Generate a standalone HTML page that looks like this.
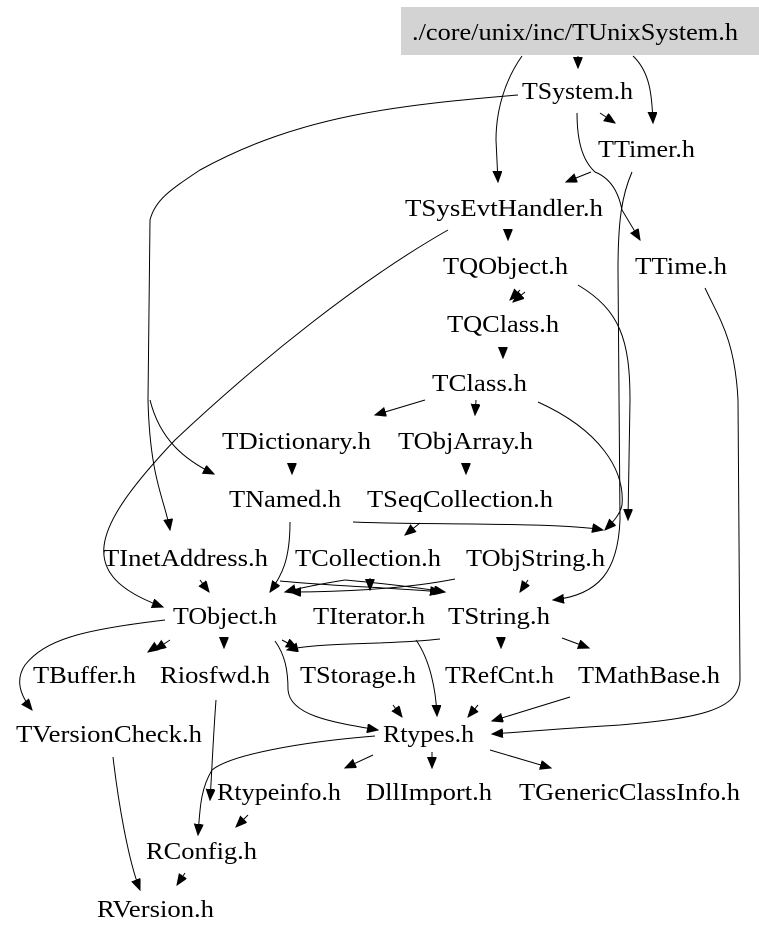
<!DOCTYPE html>
<html><head><meta charset="utf-8"><style>
html,body{margin:0;padding:0;background:#fff;}
svg{display:block;}
text{font-family:"Liberation Serif",serif;font-size:24px;fill:#000;}
path{fill:none;stroke:#000;stroke-width:1;}
</style></head><body>
<svg width="759" height="939" viewBox="0 0 759 939" xmlns="http://www.w3.org/2000/svg">
<defs>
<marker id="a" markerWidth="12" markerHeight="10" refX="11" refY="4.5" orient="auto" markerUnits="userSpaceOnUse">
<path d="M0,0 L11,4.5 L0,9 z" style="fill:#000;stroke:#000"/>
</marker>
</defs>
<rect x="401" y="7" width="358" height="48" fill="#d3d3d3"/>
<text x="412" y="40" textLength="326" lengthAdjust="spacingAndGlyphs">./core/unix/inc/TUnixSystem.h</text>
<text x="522" y="99" textLength="111" lengthAdjust="spacingAndGlyphs">TSystem.h</text>
<text x="598" y="157" textLength="97" lengthAdjust="spacingAndGlyphs">TTimer.h</text>
<text x="405" y="216" textLength="198" lengthAdjust="spacingAndGlyphs">TSysEvtHandler.h</text>
<text x="443" y="274" textLength="125" lengthAdjust="spacingAndGlyphs">TQObject.h</text>
<text x="635" y="274" textLength="92" lengthAdjust="spacingAndGlyphs">TTime.h</text>
<text x="447" y="332" textLength="112" lengthAdjust="spacingAndGlyphs">TQClass.h</text>
<text x="432" y="391" textLength="95" lengthAdjust="spacingAndGlyphs">TClass.h</text>
<text x="222" y="449" textLength="149" lengthAdjust="spacingAndGlyphs">TDictionary.h</text>
<text x="398" y="449" textLength="135" lengthAdjust="spacingAndGlyphs">TObjArray.h</text>
<text x="229" y="507" textLength="112" lengthAdjust="spacingAndGlyphs">TNamed.h</text>
<text x="367" y="507" textLength="186" lengthAdjust="spacingAndGlyphs">TSeqCollection.h</text>
<text x="103" y="566" textLength="165" lengthAdjust="spacingAndGlyphs">TInetAddress.h</text>
<text x="295" y="566" textLength="146" lengthAdjust="spacingAndGlyphs">TCollection.h</text>
<text x="466" y="566" textLength="139" lengthAdjust="spacingAndGlyphs">TObjString.h</text>
<text x="173" y="624" textLength="104" lengthAdjust="spacingAndGlyphs">TObject.h</text>
<text x="313" y="624" textLength="112" lengthAdjust="spacingAndGlyphs">TIterator.h</text>
<text x="448" y="624" textLength="102" lengthAdjust="spacingAndGlyphs">TString.h</text>
<text x="33" y="683" textLength="103" lengthAdjust="spacingAndGlyphs">TBuffer.h</text>
<text x="160" y="683" textLength="110" lengthAdjust="spacingAndGlyphs">Riosfwd.h</text>
<text x="300" y="683" textLength="116" lengthAdjust="spacingAndGlyphs">TStorage.h</text>
<text x="445" y="683" textLength="109" lengthAdjust="spacingAndGlyphs">TRefCnt.h</text>
<text x="578" y="683" textLength="142" lengthAdjust="spacingAndGlyphs">TMathBase.h</text>
<text x="16" y="742" textLength="186" lengthAdjust="spacingAndGlyphs">TVersionCheck.h</text>
<text x="383" y="742" textLength="91" lengthAdjust="spacingAndGlyphs">Rtypes.h</text>
<text x="217" y="800" textLength="124" lengthAdjust="spacingAndGlyphs">Rtypeinfo.h</text>
<text x="366" y="800" textLength="126" lengthAdjust="spacingAndGlyphs">DllImport.h</text>
<text x="519" y="800" textLength="221" lengthAdjust="spacingAndGlyphs">TGenericClassInfo.h</text>
<text x="146" y="859" textLength="111" lengthAdjust="spacingAndGlyphs">RConfig.h</text>
<text x="97" y="917" textLength="117" lengthAdjust="spacingAndGlyphs">RVersion.h</text>

<g marker-end="url(#a)">
<path d="M578,56 L578,68"/>
<path d="M522,56 C505,80 496,110 496,140 L498,182"/>
<path d="M633,56 C650,72 652,95 653,123"/>
<path d="M600,113 L615,123"/>
<path d="M577,113 C577,140 582,160 595,172 C615,180 620,200 622,210 L640,240"/>
<path d="M591,172 L566,182"/>
<path d="M518,95 C400,105 300,115 200,170 C170,190 155,200 150,220 L148,400 C150,480 165,500 170,530"/>
<path d="M150,400 C160,440 185,460 214,474"/>
<path d="M448,230 C360,280 260,360 175,440 C90,530 75,575 163,607"/>
<path d="M508,230 L508,240"/>
<path d="M520,290 L510,300"/>
<path d="M525,292 L513,302"/>
<path d="M503,348 L503,358"/>
<path d="M425,400 L375,415"/>
<path d="M476,400 L475,415"/>
<path d="M632,172 C622,195 618,220 618,270 L620,520 C618,570 600,595 553,600"/>
<path d="M578,285 C620,310 630,340 630,400 L628,520"/>
<path d="M538,402 C600,430 625,470 622,505 C620,515 612,523 605,530"/>
<path d="M292,463 L292,474"/>
<path d="M466,463 L466,474"/>
<path d="M353,522 C420,525 560,522 603,530"/>
<path d="M420,523 L405,535"/>
<path d="M290,522 C290,560 282,575 270,592"/>
<path d="M200,580 L209,592"/>
<path d="M345,580 C320,584 300,588 285,592"/>
<path d="M455,579 C400,590 330,592 290,592"/>
<path d="M370,578 L370,590"/>
<path d="M345,580 C390,584 420,588 445,592"/>
<path d="M280,581 C330,586 400,588 441,592"/>
<path d="M528,580 L520,592"/>
<path d="M165,620 C80,630 45,640 25,665 C15,680 20,695 32,710"/>
<path d="M170,640 L155,650"/>
<path d="M160,644 L148,652"/>
<path d="M224,638 L224,648"/>
<path d="M282,640 L297,648"/>
<path d="M440,639 C390,645 320,642 287,650"/>
<path d="M275,641 C285,655 288,670 288,690 C290,715 330,722 378,730"/>
<path d="M416,640 C430,660 436,690 437,716"/>
<path d="M501,638 L501,648"/>
<path d="M562,638 L589,648"/>
<path d="M393,705 L402,717"/>
<path d="M478,705 L468,717"/>
<path d="M570,697 L492,721"/>
<path d="M705,288 C720,320 735,340 738,400 L740,680 C738,710 700,718 620,725 C570,728 520,732 492,734"/>
<path d="M375,736 C300,742 230,755 212,770 C200,790 200,810 198,835"/>
<path d="M216,700 C213,740 212,770 210,800"/>
<path d="M373,755 L345,768"/>
<path d="M432,752 L432,768"/>
<path d="M490,750 L551,768"/>
<path d="M248,815 L236,827"/>
<path d="M113,757 C118,800 128,860 140,890"/>
<path d="M185,873 L177,885"/>
</g>
</svg>
</body></html>
